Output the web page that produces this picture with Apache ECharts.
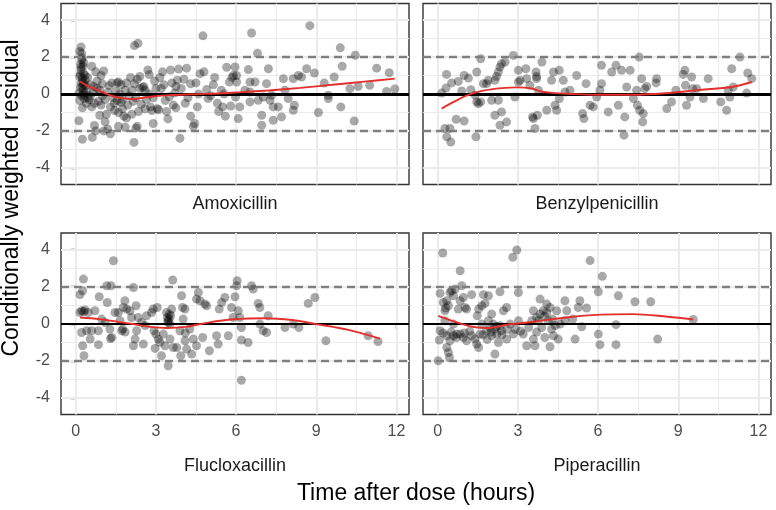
<!DOCTYPE html>
<html>
<head>
<meta charset="utf-8">
<script src="https://cdn.jsdelivr.net/npm/echarts@6/dist/echarts.min.js"></script>
<style>html,body{margin:0;padding:0;background:#fff}#c{width:776px;height:510px}</style>
</head>
<body>
<div id="c"></div>
<script>
const panelNames = ['Amoxicillin', 'Benzylpenicillin', 'Flucloxacillin', 'Piperacillin'];
const xTicks = [0, 3, 6, 9, 12];
const xMinor = [1.5, 4.5, 7.5, 10.5];
const yTicks = [-4, -2, 0, 2, 4];
const yMinor = [-3, -1, 1, 3];
const refLines = [-2, 2];
const xRange = [-0.55, 12.47];
const yRange = [-4.9, 4.9];

const amoxicillin = [
[0.15,2.3],[0.2,2.55],[0.22,2.2],[0.25,1.95],[0.18,1.6],[0.28,1.5],[0.2,1.3],[0.3,1.1],[0.15,0.95],[0.25,0.85],
[0.35,0.75],[0.2,0.6],[0.3,0.5],[0.18,0.35],[0.28,0.2],[0.4,0.1],[0.22,-0.1],[0.32,-0.25],[0.15,-0.35],[0.4,-0.5],
[0.25,-0.75],[0.12,-1.45],[0.25,-2.45],[0.35,1.0],[0.38,0.45],[0.45,0.9],[0.12,0.05],[0.5,-0.3],[0.45,-0.2],[0.3,1.7],
[0.22,1.85],[0.17,1.05],[0.27,0.65],[0.33,-0.05],[0.2,1.45],[0.24,0.4],[0.3,0.05],
[0.55,0.5],[0.6,1.5],[0.65,0.1],[0.7,-0.5],[0.6,-0.7],[0.75,1.2],[0.8,0.3],[0.85,-0.4],[0.9,-1.15],[0.7,-1.7],
[0.75,-2.0],[0.62,-2.35],[0.95,1.0],[1.0,0.55],[0.9,0.2],[1.0,-0.1],[0.95,-0.6],[0.55,-0.1],[0.8,0.7],[0.68,0.4],
[1.05,1.25],[1.1,-0.3],[1.15,-1.1],[1.1,-1.5],[1.2,-1.9],[1.3,-2.15],[1.25,0.45],[1.35,0.6],[1.4,-0.2],[1.45,-0.5],
[1.2,0.1],[1.3,-0.7],[1.5,0.15],[1.45,-0.9],[1.05,-2.0],
[1.55,0.6],[1.6,0.65],[1.65,0.0],[1.7,-0.45],[1.75,-0.8],[1.6,-1.0],[1.8,-1.2],[1.85,-1.8],[1.9,0.6],[1.7,0.5],
[1.75,-0.3],[1.95,-0.6],[1.6,-1.75],[1.9,-1.3],[1.85,0.2],[2.0,-0.1],[1.55,-0.35],
[2.05,0.9],[2.1,0.2],[2.15,-0.4],[2.2,2.62],[2.33,2.75],[2.18,-2.62],[2.25,-1.85],[2.3,-1.75],[2.2,0.55],[2.3,0.8],
[2.4,0.3],[2.45,-0.55],[2.35,-0.95],[2.5,0.35],[2.4,0.95],[2.25,-0.2],[2.1,-1.1],
[2.55,0.4],[2.6,0.2],[2.7,1.3],[2.75,1.05],[2.8,-0.7],[2.85,-0.9],[2.9,-1.6],[2.65,-0.3],[2.95,0.7],[3.0,0.3],
[2.9,-0.2],[2.6,-0.8],[2.75,0.0],
[3.05,-0.8],[3.1,-0.85],[3.2,0.3],[3.25,1.2],[3.3,0.5],[3.35,-0.35],[3.4,-0.95],[3.45,-1.35],[3.55,1.3],[3.6,0.6],
[3.65,-0.6],[3.7,0.05],[3.75,-0.75],[3.8,0.75],[3.85,1.35],[3.9,-2.4],[3.95,0.3],[3.5,-0.15],[3.15,0.9],[3.75,0.4],
[4.05,0.8],[4.1,-0.5],[4.2,-0.2],[4.3,0.55],[4.4,-1.75],[4.45,-1.6],[4.5,0.6],[4.55,-0.7],[4.65,1.1],[4.76,3.15],
[4.8,1.2],[4.9,0.25],[4.95,-0.25],[4.3,-1.2],[4.15,1.4],[4.6,0.0],
[5.05,-0.1],[5.2,0.9],[5.3,-0.5],[5.35,-0.95],[5.5,-0.7],[5.45,0.2],[5.6,-1.2],[5.65,1.45],[5.75,0.65],[5.8,-0.65],
[5.85,0.9],[5.9,1.0],[5.15,0.5],[5.55,0.0],
[5.96,1.46],[5.98,-0.16],[6.02,1.0],[6.02,0.65],[6.08,-1.33],[6.14,-0.7],[6.33,0.2],[6.46,1.32],[6.52,0.65],[6.52,-0.43],
[6.52,0.11],[6.58,3.3],[6.71,0.65],[6.8,2.2],[6.83,-0.34],[6.96,-1.15],[6.96,-1.69],[7.02,-0.16],[7.14,0.56],[7.21,1.37],
[7.27,-0.34],[7.33,-0.07],[7.39,-1.42],[7.39,-0.7],[7.58,-0.7],[7.7,-1.24],[7.77,0.83],[7.83,0.2],[7.95,-0.25],[8.14,-0.88],
[8.18,-0.61],[8.14,0.83],[8.33,1.0],[8.45,0.92],[8.64,1.37],[8.76,3.7],[8.93,1.14],[9.08,-1.0],[9.3,0.59],[9.45,-0.25],
[9.45,-0.07],[9.67,0.92],[9.92,-0.7],[9.9,2.5],[9.97,1.5],[10.26,0.29],[10.42,-1.46],[10.46,2.1],[10.57,0.41],[11.0,0.47],
[11.26,1.4],[11.63,0.14],[11.73,1.15],[11.94,0.27]
];

const benzylpenicillin = [
[0.15,0.05],[0.33,1.06],[0.31,0.32],[0.27,-1.87],[0.46,-1.87],[0.34,-2.32],[0.49,-2.6],[0.52,0.6],[0.69,-1.37],[0.77,0.68],
[0.9,0.16],[0.99,1.0],[0.99,-1.46],[1.15,0.86],[1.24,0.23],[1.4,-0.07],[1.43,-2.32],[1.46,1.19],[1.52,-0.52],[1.61,1.91],
[1.61,-0.43],[1.71,0.56],[1.83,0.56],[1.89,0.74],[2.02,-0.34],[2.14,0.74],[2.14,-1.15],[2.27,-0.34],[2.27,1.19],[2.33,1.46],
[2.39,-0.97],[2.33,-1.69],[2.39,1.64],[2.52,1.73],[2.58,-1.51],[2.83,2.09],[2.89,-0.16],[3.02,1.28],[3.08,0.74],[3.02,0.65],
[3.3,1.37],[3.33,0.83],[3.45,0.47],[3.58,-1.33],[3.64,-1.87],[3.68,1.19],[3.7,0.83],[3.73,-1.15],[3.77,0.2],[3.9,1.73],
[4.08,-0.88],[4.26,0.74],[4.33,1.19],[4.39,-0.61],[4.45,-0.88],[4.55,1.28],[4.55,-0.25],[4.7,0.74],[4.76,0.11],[4.95,0.2],
[5.2,1.0],[5.42,-1.06],[5.47,-1.33],[5.55,0.56],[5.7,-0.61],[5.82,-0.7],[5.95,-0.16],[6.13,1.55],[6.13,0.56],[6.07,0.2],
[6.38,-0.97],[6.51,1.19],[6.67,1.55],[6.76,-0.61],[6.88,1.28],[6.97,-2.23],[7.0,-1.24],[7.07,0.38],[7.2,1.28],[7.32,-0.25],
[7.44,0.2],[7.47,-0.61],[7.54,2.0],[7.63,0.83],[7.67,-1.51],[7.69,-1.06],[7.75,0.29],[7.82,0.41],[8.19,0.83],[8.17,0.6],
[8.57,-0.79],[8.75,-0.43],[8.91,0.2],[9.19,1.06],[9.25,1.28],[9.27,0.47],[9.31,-0.61],[9.44,-0.16],[9.5,0.92],[9.54,0.29],
[9.69,0.29],[9.94,-0.25],[10.12,0.83],[10.59,-0.43],[10.81,-0.88],[10.87,0.2],[10.93,-0.16],[11.0,1.37],[11.06,0.38],[11.31,2.0],
[11.6,1.14],[11.56,0.05],[11.75,0.83],[1.46,-0.43],[3.55,-1.24],[7.56,-0.88],[3.7,0.95],[2.2,0.95]
];

const flucloxacillin = [
[0.16,1.57],[0.29,2.41],[0.26,1.78],[0.22,0.7],[0.35,0.74],[0.47,0.61],[0.22,-0.47],[0.26,-1.19],[0.31,-1.73],[0.54,-0.83],
[0.6,-0.38],[0.72,0.7],[0.85,-0.38],[0.88,1.46],[0.85,-1.13],[0.97,0.25],[1.1,0.07],[1.16,2.05],[1.18,1.15],[1.28,-0.29],
[1.32,2.05],[1.35,-0.74],[1.41,3.4],[1.47,0.61],[1.6,0.61],[1.66,0.16],[1.72,-0.38],[1.76,-0.29],[1.84,1.24],[1.78,0.88],
[1.91,0.79],[2.03,0.7],[2.09,0.34],[2.16,1.96],[2.16,-1.19],[2.22,-0.83],[2.26,0.97],[2.28,-0.38],[2.34,0.34],[2.47,0.07],
[2.53,-1.1],[2.65,0.43],[2.84,0.61],[2.9,0.79],[2.93,-0.38],[3.0,-0.56],[2.97,-1.33],[3.05,0.88],[3.09,-0.83],[3.28,-0.56],
[3.21,-1.73],[3.34,-1.19],[3.4,0.61],[3.43,0.34],[3.46,0.07],[3.49,0.25],[3.53,-0.02],[3.55,0.43],[3.46,-2.27],[3.53,-0.83],
[3.59,0.79],[3.63,2.36],[3.65,-1.28],[3.78,-1.28],[3.9,-0.38],[3.93,-1.73],[3.96,1.51],[4.0,0.88],[4.02,0.25],[4.09,0.79],
[4.09,-0.92],[4.15,-1.37],[4.27,-0.29],[4.34,-1.64],[4.4,-0.83],[4.52,-1.19],[4.52,1.33],[4.59,1.69],[4.65,1.24],[4.75,-0.74],
[4.83,1.06],[4.9,0.97],[5.0,-1.46],[5.27,-0.65],[5.33,-1.1],[5.37,0.79],[5.46,1.15],[5.58,1.42],[5.71,-0.65],[5.83,0.88],
[5.89,0.34],[5.96,1.46],[6.02,2.05],[6.04,2.32],[6.08,0.7],[6.14,0.34],[6.2,-0.2],[6.2,-0.88],[6.2,-3.05],[6.45,-1.01],
[6.58,2.05],[6.64,1.87],[6.83,1.1],[6.89,0.88],[6.89,-0.02],[7.01,-0.38],[7.14,-0.47],[7.2,0.43],[7.83,-0.2],[8.14,-0.02],
[8.35,-0.2],[8.7,1.1],[8.95,1.42],[9.36,-0.92],[10.94,-0.65],[11.31,-0.96],[0.16,0.61],[0.41,-0.38],[3.5,0.5],[3.45,0.15],
[1.85,-0.45],[1.3,-0.8],[2.6,-0.1],[0.3,0.65],[4.1,-0.5],[3.15,-1.0]
];

const piperacillin = [
[0.19,3.82],[2.96,3.98],[2.81,3.59],[0.84,2.86],[5.7,3.41],[6.16,2.56],[0.09,1.64],[0.21,1.15],[0.27,0.7],[0.34,1.24],
[0.4,0.97],[0.46,1.69],[0.52,1.78],[0.59,1.51],[0.65,1.87],[0.77,0.79],[0.84,1.24],[0.9,2.05],[0.96,1.42],[1.02,0.88],
[1.08,0.79],[1.27,1.57],[1.48,0.43],[1.65,0.97],[1.71,1.57],[1.77,1.1],[1.9,1.51],[2.33,1.73],[2.58,0.88],[3.02,1.69],
[3.83,1.33],[4.08,1.06],[4.2,0.88],[4.76,1.24],[5.32,1.24],[5.26,0.88],[5.57,0.85],[6.01,1.73],[6.76,1.51],[7.38,1.19],
[7.97,1.19],[9.56,0.23],[0.09,-0.38],[0.06,-0.88],[0.02,-2.0],[0.34,-0.65],[0.34,-1.28],[0.4,-1.55],[0.44,-1.82],[0.46,-0.92],
[0.59,-0.65],[0.71,-0.56],[0.84,-0.56],[0.96,-0.74],[1.08,-0.92],[1.27,-0.65],[1.4,-0.83],[1.46,-1.1],[1.53,-1.28],[1.58,-0.56],
[1.83,-0.38],[1.96,-0.2],[2.02,-0.65],[2.08,-0.02],[2.14,-0.29],[2.21,-0.56],[2.27,-1.01],[2.14,-1.64],[2.33,-0.11],[2.39,-0.38],
[2.58,-0.83],[2.71,-0.02],[2.83,-0.56],[3.02,0.16],[3.2,-0.56],[3.33,-1.19],[3.52,0.16],[3.58,0.7],[3.58,-0.83],[3.64,-1.19],
[3.7,0.34],[3.83,0.52],[3.89,-0.2],[3.95,0.7],[4.01,-0.74],[4.08,0.61],[4.14,0.16],[4.2,-1.24],[4.26,-0.29],[4.33,-0.65],
[4.45,0.7],[4.51,-0.83],[4.58,-0.02],[4.76,0.16],[4.83,0.7],[5.05,0.25],[5.14,-0.83],[5.39,-0.16],[6.01,-0.56],[6.07,-1.13],
[6.67,-1.13],[6.67,-0.05],[8.23,-0.83],[0.27,0.16],[0.59,-0.02],[1.65,-0.02],[1.9,0.16],[2.02,0.52],[2.46,0.7],[1.53,0.79],
[3.77,0.16],[0.3,0.85],[0.5,-0.45],[0.7,-0.75],[1.0,-0.5],[1.7,-0.6],[1.85,-0.85],[2.0,-0.45],[2.2,-0.15],[2.4,-0.6],
[2.6,-0.3],[3.4,-0.2],[3.7,-0.45],[4.0,0.4],[4.3,0.25],[1.2,-0.4],[0.2,-0.5],[2.9,-0.3],[3.1,-0.4],[4.4,-0.1]
];

const amoxicillinSmooth = [[0.16,0.68],[0.5,0.4],[0.75,0.27],[1.0,0.1],[1.4,-0.12],[1.8,-0.24],[2.1,-0.27],[2.4,-0.23],[2.8,-0.15],[3.5,-0.06],[4.5,-0.01],[5.5,0.04],[6.2,0.1],[7.2,0.19],[8.4,0.33],[9.6,0.5],[10.8,0.67],[11.94,0.83]];
const benzylpenicillinSmooth = [[0.15,-0.79],[0.6,-0.43],[1.1,-0.08],[1.7,0.18],[2.4,0.32],[3.0,0.36],[3.5,0.3],[3.9,0.12],[4.4,0.05],[5.0,0.0],[6.0,-0.04],[7.3,-0.04],[8.5,0.04],[9.8,0.22],[11.0,0.38],[11.75,0.65]];
const flucloxacillinSmooth = [[0.16,0.34],[0.9,0.25],[1.6,0.1],[2.2,-0.03],[2.8,-0.17],[3.4,-0.23],[4.1,-0.17],[4.9,0.05],[5.9,0.24],[7.1,0.3],[8.1,0.2],[9.0,-0.02],[10.2,-0.33],[11.38,-0.8]];
const piperacillinSmooth = [[0.02,0.43],[0.6,0.13],[1.3,-0.16],[1.85,-0.23],[2.6,-0.05],[3.6,0.11],[4.8,0.34],[6.1,0.49],[7.3,0.52],[8.6,0.38],[9.56,0.23]];

const pointSets = [amoxicillin, benzylpenicillin, flucloxacillin, piperacillin];
const smoothSets = [amoxicillinSmooth, benzylpenicillinSmooth, flucloxacillinSmooth, piperacillinSmooth];

const FONT = 'Liberation Sans, Arial, Helvetica, sans-serif';
const layout = [
  {left: 61, top: 3.5, width: 348, height: 181, showX: false, showY: true, stripY: 204, zeroW: 2.8},
  {left: 423, top: 3.5, width: 348, height: 181, showX: false, showY: false, stripY: 204, zeroW: 2.8},
  {left: 61, top: 233, width: 348, height: 181.5, showX: true, showY: true, stripY: 466, zeroW: 2.2},
  {left: 423, top: 233, width: 348, height: 181.5, showX: true, showY: false, stripY: 466, zeroW: 2.2}
];

const grid = [], xAxis = [], yAxis = [], series = [], graphic = [];

layout.forEach((L, i) => {
  grid.push({left: L.left, top: L.top, width: L.width, height: L.height, show: true,
    borderColor: '#333333', borderWidth: 1.4, backgroundColor: '#ffffff', containLabel: false});
  xAxis.push({type: 'value', gridIndex: i, min: xRange[0], max: xRange[1],
    axisLine: {show: false}, splitLine: {show: false},
    axisTick: {show: L.showX, customValues: xTicks, length: 5, lineStyle: {color: '#333333', width: 1.4}},
    axisLabel: {show: L.showX, customValues: xTicks, margin: 9, color: '#4d4d4d', fontSize: 16, fontFamily: FONT}
  });
  yAxis.push({type: 'value', gridIndex: i, min: yRange[0], max: yRange[1],
    axisLine: {show: false}, splitLine: {show: false},
    axisTick: {show: L.showY, customValues: yTicks, length: 5, lineStyle: {color: '#333333', width: 1.4}},
    axisLabel: {show: L.showY, customValues: yTicks, margin: 11, color: '#4d4d4d', fontSize: 16, fontFamily: FONT}
  });
  const gridLines = [];
  xTicks.forEach(v => gridLines.push({xAxis: v, lineStyle: {color: '#ebebeb', width: 2, type: 'solid'}}));
  xMinor.forEach(v => gridLines.push({xAxis: v, lineStyle: {color: '#ebebeb', width: 1, type: 'solid'}}));
  yTicks.forEach(v => gridLines.push({yAxis: v, lineStyle: {color: '#ebebeb', width: 2, type: 'solid'}}));
  yMinor.forEach(v => gridLines.push({yAxis: v, lineStyle: {color: '#ebebeb', width: 1, type: 'solid'}}));
  series.push({type: 'line', xAxisIndex: i, yAxisIndex: i, data: [], z: 1, silent: true,
    markLine: {z: 1, silent: true, symbol: 'none', animation: false, label: {show: false}, emphasis: {disabled: true}, data: gridLines}
  });
  series.push({type: 'scatter', xAxisIndex: i, yAxisIndex: i, data: pointSets[i], z: 2, symbolSize: 9,
    itemStyle: {color: 'rgba(0,0,0,0.42)', borderWidth: 0}, animation: false, silent: true
  });
  const refs = refLines.map(v => ({yAxis: v, lineStyle: {color: '#7f7f7f', width: 2.3, type: [8, 5]}}));
  refs.push({yAxis: 0, lineStyle: {color: '#000000', width: L.zeroW, type: 'solid'}});
  series.push({type: 'line', xAxisIndex: i, yAxisIndex: i, data: [], z: 3, silent: true,
    markLine: {z: 3, silent: true, symbol: 'none', animation: false, label: {show: false}, emphasis: {disabled: true}, data: refs}
  });
  series.push({type: 'line', xAxisIndex: i, yAxisIndex: i, data: smoothSets[i], z: 4, smooth: 0.35,
    showSymbol: false, silent: true, animation: false,
    lineStyle: {color: '#e3302d', width: 1.9}
  });
  graphic.push({type: 'text', x: L.left + L.width / 2, y: L.stripY, z: 10,
    style: {text: panelNames[i], align: 'center', verticalAlign: 'middle', fontSize: 18, fontFamily: FONT, fill: '#1a1a1a'}});
});

graphic.push({type: 'text', x: 416, y: 494, z: 10,
  style: {text: 'Time after dose (hours)', align: 'center', verticalAlign: 'middle', fontSize: 23, fontFamily: FONT, fill: '#000000'}});
graphic.push({type: 'text', x: 12, y: 198, rotation: Math.PI / 2, z: 10,
  style: {text: 'Conditionally weighted residual', align: 'center', verticalAlign: 'middle', fontSize: 23, fontFamily: FONT, fill: '#000000'}});

const chart = echarts.init(document.getElementById('c'), null, {renderer: 'canvas'});
chart.setOption({animation: false, backgroundColor: '#ffffff', grid, xAxis, yAxis, series, graphic});
</script>
</body>
</html>
